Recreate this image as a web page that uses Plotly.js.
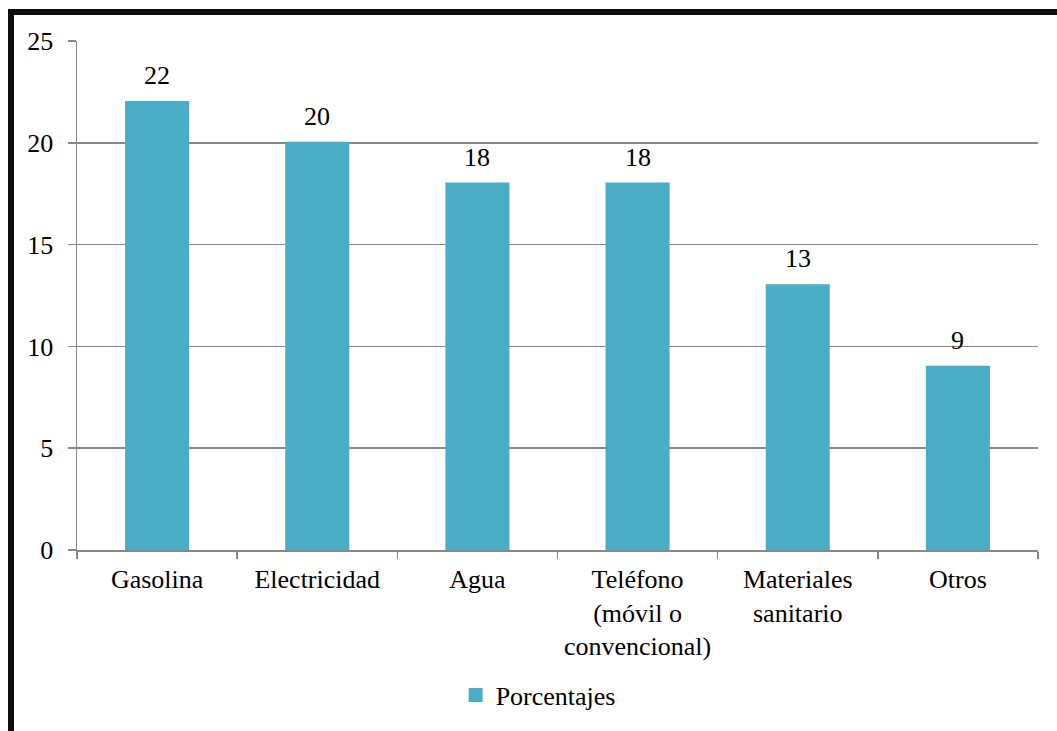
<!DOCTYPE html>
<html>
<head>
<meta charset="utf-8">
<script src="https://cdn.plot.ly/plotly-3.0.1.min.js"></script>
<style>
  html, body { margin: 0; padding: 0; background: #fff; }
  #chart { position: absolute; left: 0; top: 0; width: 1057px; height: 731px; }
  #frame { position: absolute; left: 8px; top: 9px; width: 1049px; height: 722px;
           border-top: 6px solid #0d0d0d; border-left: 6px solid #0d0d0d;
           box-sizing: border-box; pointer-events: none; }
</style>
</head>
<body>
<div id="chart"></div>
<div id="frame"></div>
<script>
const categories = ["Gasolina", "Electricidad", "Agua", "Teléfono<br>(móvil o<br>convencional)", "Materiales<br>sanitario", "Otros"];
const porcentajes = [22, 20, 18, 18, 13, 9];
const seriesName = "Porcentajes";
const yTicks = [0, 5, 10, 15, 20, 25];

const FONT = "'Liberation Serif', 'Times New Roman', serif";
const FS = 26;
const GRID = "#878787";
const BAR = "#4BACC6";

const trace = {
  type: "bar",
  x: categories,
  y: porcentajes,
  name: seriesName,
  marker: { color: BAR, line: { color: BAR, width: 2 } },
  showlegend: true,
  hoverinfo: "x+y"
};

const annotations = categories.map((c, i) => ({
  x: c, y: porcentajes[i], xref: "x", yref: "y",
  text: String(porcentajes[i]), showarrow: false,
  yanchor: "bottom", yshift: 10,
  font: { family: FONT, size: FS, color: "#000" }
}));

const layout = {
  width: 1057, height: 731,
  margin: { l: 77, r: 19, t: 41, b: 179 },
  paper_bgcolor: "#fff", plot_bgcolor: "#fff",
  font: { family: FONT, size: FS, color: "#000" },
  bargap: 0.6125,
  xaxis: {
    type: "category",
    showline: true, linecolor: GRID, linewidth: 1.5,
    ticks: "outside", ticklen: 7, tickcolor: GRID, tickwidth: 1.5,
    tickson: "boundaries",
    showgrid: false,
    tickfont: { family: FONT, size: FS, color: "#000" },
    ticklabelstandoff: 5
  },
  yaxis: {
    range: [0, 25],
    tickvals: yTicks,
    ticktext: yTicks.map(String),
    showline: true, linecolor: GRID, linewidth: 1.5,
    ticks: "outside", ticklen: 8, tickcolor: GRID, tickwidth: 1.5,
    showgrid: true, gridcolor: GRID, gridwidth: 1.5,
    zeroline: false,
    tickfont: { family: FONT, size: FS, color: "#000" },
    ticklabelstandoff: 9
  },
  showlegend: true,
  legend: {
    orientation: "h",
    x: 0.394, xanchor: "left",
    y: -0.285, yanchor: "middle",
    font: { family: FONT, size: FS, color: "#000" },
    bgcolor: "rgba(0,0,0,0)"
  },
  annotations: annotations
};

Plotly.newPlot("chart", [trace], layout, { displayModeBar: false, staticPlot: true });
</script>
</body>
</html>
